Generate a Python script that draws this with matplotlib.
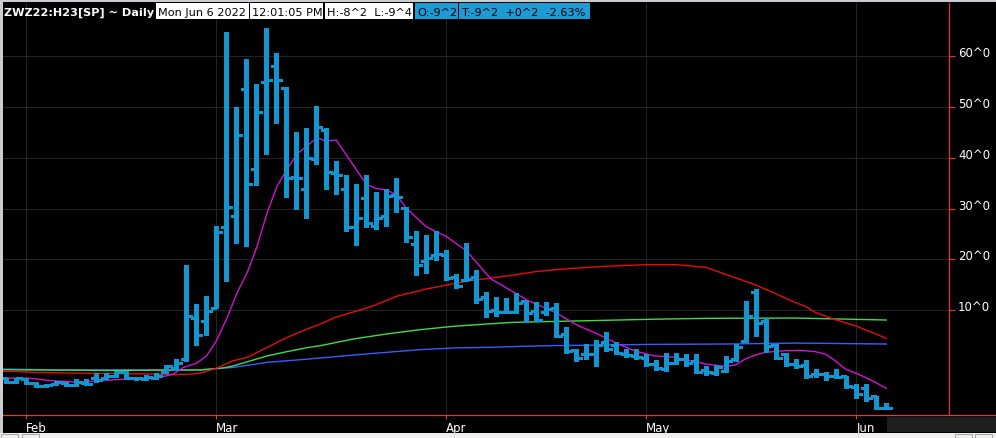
"""
ZWZ22:H23 wheat calendar spread, daily OHLC bars with moving averages
"""

import numpy as np
import pandas as pd
import matplotlib
matplotlib.use('Agg')
import matplotlib.pyplot as plt
from matplotlib.patches import Rectangle

# trading days on the chart (CBOT holidays removed)
dates = pd.bdate_range('2022-01-28', '2022-06-06', freq='C',
                       holidays=['2022-02-21', '2022-04-15', '2022-05-30'])

# spread prices in cents, one value per trading day
opens = [-3.4, -4.2, -3.5, -4.4, -5.0, -4.6, -4.3, -4.8, -4.4, -3.3,
         -3.4, -2.9, -2.2, -3.3, -3.5, -3.3, -2.3, -1.5, 0.3, 8.4,
         7.8, 10.5, 26.3, 28.5, 53.6, 37.9, 54.9, 58.2, 53.8, 36.2,
         33.8, 39.8, 45.5, 37.0, 33.9, 26.4, 32.1, 26.6, 28.5, 32.7,
         30.1, 22.95, 19.6, 20.85, 20.9, 16.45, 15.9, 16.5, 12.5, 10.0,
         9.55, 9.55, 11.7, 9.75, 9.55, 10.5, 5.3, 2.2, 1.35, 1.35,
         3.8, 3.2, 1.35, 1.0, 0.55, -0.6, -1.6, -0.5, 0.35, -0.1,
         -1.75, -2.45, -1.95, 0.35, 3.85, 13.5, 7.8, 3.1, 1.35, -0.6,
         -0.8, -2.6, -2.6, -3.05, -3.05, -5.25, -5.45, -7.0, -9.25]
highs = [-3.3, -3.3, -3.3, -4.1, -4.6, -3.9, -4.1, -3.6, -3.6, -2.4,
         -2.5, -2.0, -2.0, -3.1, -2.8, -2.4, -0.9, 0.4, 18.9, 11.2,
         12.8, 26.6, 64.9, 50.0, 59.5, 54.6, 65.6, 60.7, 53.9, 45.0,
         45.9, 50.2, 45.9, 39.4, 36.6, 34.9, 36.6, 33.3, 33.9, 36.0,
         30.4, 25.5, 24.8, 25.65, 21.8, 17.1, 23.3, 17.9, 13.5, 12.5,
         12.4, 13.3, 11.7, 11.5, 11.5, 11.4, 6.7, 2.3, 3.3, 4.1,
         5.75, 3.65, 2.35, 2.35, 1.35, 0.15, 1.55, 1.55, 1.35, 1.35,
         -1.1, -0.85, 0.9, 3.3, 11.85, 14.15, 8.35, 3.3, 1.55, 0.45,
         0.15, -1.6, -2.15, -1.6, -2.95, -4.55, -4.55, -7.0, -8.25]
lows = [-4.4, -4.4, -4.6, -5.1, -5.1, -4.7, -5.0, -5.0, -4.8, -4.1,
        -3.6, -3.1, -3.6, -3.7, -3.7, -3.6, -2.4, -1.9, -0.1, 3.2,
        5.0, 10.5, 15.8, 23.2, 22.7, 34.7, 40.8, 46.9, 32.3, 29.9,
        28.1, 38.7, 33.9, 32.9, 25.5, 22.9, 26.4, 26.0, 26.6, 29.4,
        23.5, 17.0, 17.3, 19.9, 16.0, 14.35, 15.65, 11.45, 8.7, 8.9,
        9.35, 9.35, 7.6, 7.8, 9.1, 4.6, 1.55, 0.0, 0.35, -0.95,
        2.0, 1.35, 0.7, 0.35, -0.95, -1.75, -1.95, -0.6, -0.95, -2.45,
        -2.8, -2.8, -2.3, 0.05, 3.65, 4.95, 1.8, 0.35, -0.95, -1.5,
        -3.45, -3.25, -3.7, -3.45, -5.45, -7.4, -7.85, -9.5, -9.5]
closes = [-4.2, -3.4, -4.4, -5.0, -4.8, -4.2, -4.8, -4.2, -4.6, -3.7,
          -2.9, -2.2, -3.4, -3.4, -3.1, -2.9, -1.1, -0.4, 8.8, 5.1,
          9.75, 25.3, 30.25, 44.6, 34.8, 49.0, 55.3, 55.3, 36.0, 36.0,
          39.9, 46.0, 37.2, 36.7, 26.4, 28.1, 27.2, 28.1, 32.4, 32.3,
          24.5, 18.9, 20.2, 21.05, 16.3, 14.75, 16.1, 12.1, 9.75, 9.55,
          9.55, 11.3, 9.35, 8.05, 10.2, 4.95, 1.9, 0.55, 1.35, 3.2,
          2.35, 1.55, 1.15, 0.7, -0.6, -1.5, -0.5, 0.35, -0.5, -2.3,
          -2.3, -1.15, 0.05, 2.65, 8.75, 7.45, 2.85, 0.55, -0.6, -1.1,
          -3.05, -2.6, -2.95, -3.25, -4.9, -6.55, -7.4, -9.35, -9.25]

# moving averages: (bar index, value)
ma_fast_x = [-1, 0, 2.4, 4.4, 7.4, 9.4, 12.0, 15.4, 16.7, 17.7, 19.0, 20.0,
             21.0, 22.1, 23.1, 24.1, 25.1, 26.1, 27.1, 28.1, 29.1, 30.1,
             31.1, 31.9, 33.0, 36.0, 36.9, 38.0, 39.0, 40.0, 42.0, 44.0,
             46.0, 47.9, 48.5, 50.5, 52.2, 53.8, 55.2, 57.2, 58.8, 61.2,
             62.8, 64.7, 66.9, 68.9, 69.9, 71.9, 72.9, 73.9, 74.9, 75.9,
             77.9, 79.5, 80.9, 81.9, 82.9, 83.9, 84.9, 85.9, 86.9, 88.0]
ma_fast_y = [-3.4, -3.4, -3.45, -3.9, -4.25, -3.9, -3.6, -3.25, -2.6, -1.3,
             -0.5, 0.9, 3.9, 8.6, 13.5, 17.4, 22.7, 29.3, 34.5, 37.8,
             40.8, 42.4, 44.0, 43.3, 43.5, 34.8, 34.0, 33.7, 32.7, 30.1,
             26.4, 24.5, 21.7, 17.4, 16.1, 13.8, 11.85, 10.5, 9.2, 6.9,
             5.6, 3.3, 2.0, 1.0, 0.7, -0.17, -0.63, -1.09, -0.83, 0.36,
             1.14, 1.67, 2.0, 2.06, 1.8, 1.33, 0.02, -1.62, -2.4, -3.26,
             -4.24, -5.43]

ma_mid_x = [-1, 0.7, 2.7, 6.0, 9.4, 14.4, 16.7, 18.7, 19.4, 21.0, 22.7,
            24.1, 26.1, 28.1, 30.1, 31.4, 32.9, 35.7, 36.9, 39.0, 42.0,
            44.0, 46.4, 48.4, 50.4, 53.0, 56.4, 59.7, 64.0, 67.0, 70.0,
            73.0, 74.7, 76.4, 78.7, 79.9, 80.9, 82.9, 84.9, 88.0]
ma_mid_y = [-2.07, -2.07, -2.27, -2.4, -2.47, -2.6, -2.73, -2.6, -2.4, -1.5,
            0.02, 0.68, 2.66, 4.63, 6.27, 7.25, 8.57, 10.2, 11.0, 12.7,
            14.15, 14.93, 15.8, 16.3, 16.8, 17.6, 18.2, 18.6, 18.95, 18.95,
            18.4, 16.3, 15.14, 13.7, 11.65, 10.73, 9.55, 8.1, 6.92, 4.43]

ma_slow_x = [-1, 10, 19.4, 21.7, 22.7, 26.1, 28.1, 30.1, 31.4, 34.7, 38.0,
             41.4, 44.7, 48.0, 50.7, 55.3, 64.8, 70.0, 78.9, 88.0]
ma_slow_y = [-1.75, -1.9, -1.8, -1.4, -1.0, 0.97, 1.82, 2.6, 2.98, 4.3, 5.28,
             6.14, 6.8, 7.25, 7.58, 7.78, 8.2, 8.37, 8.43, 8.04]

ma_long_x = [-1, 5, 19.4, 22.7, 26.1, 29.4, 31.4, 34.7, 38.0, 41.4, 44.7,
             48.0, 54.1, 64.8, 72.0, 78.9, 88.0]
ma_long_y = [-1.6, -1.8, -1.8, -1.3, -0.3, 0.22, 0.55, 1.14, 1.67, 2.2, 2.53,
             2.65, 2.98, 3.24, 3.31, 3.5, 3.31]

price_ticks = [10, 20, 30, 40, 50, 60]

header_title = 'ZWZ22:H23[SP] ~ Daily'
header_boxes = ['Mon Jun 6 2022', '12:01:05 PM', 'H:-8^2  L:-9^4',
                'O:-9^2', 'T:-9^2  +0^2  -2.63%']

BAR_COLOR = '#1396cf'
AXIS_RED = '#e83535'

W, H = 996, 439
fig = plt.figure(figsize=(W / 100, H / 100), dpi=100, facecolor='black')
ax = fig.add_axes([3 / W, (H - 416) / H, (949 - 3) / W, (416 - 4) / H])
ax.set_facecolor('black')

x = np.arange(len(dates))
op = np.array(opens)
hi = np.array(highs)
lo = np.array(lows)
cl = np.array(closes)

# moving averages first, bars on top
ax.plot(ma_long_x, ma_long_y, color='#3a5cff', lw=1.0, zorder=2)
ax.plot(ma_slow_x, ma_slow_y, color='#3fdc4a', lw=1.0, zorder=2)
ax.plot(ma_mid_x, ma_mid_y, color='#e80d0d', lw=1.0, zorder=2)
ax.plot(ma_fast_x, ma_fast_y, color='#d411d4', lw=1.0, zorder=2)

# OHLC bars, drawn crisp like the terminal does
bar_kw = dict(color=BAR_COLOR, zorder=3, antialiased=False)
ax.vlines(x, lo, hi, lw=2.2, **bar_kw)
ax.hlines(op, x - 0.55, x, lw=2.0, **bar_kw)
ax.hlines(cl, x, x + 0.55, lw=2.0, **bar_kw)

ax.set_xlim(-0.33, 94.27)
ax.set_ylim(-10.68, 70.52)

# month ticks at first trading day of each month
month_idx = [int(np.where(dates.month == m)[0][0]) for m in [2, 3, 4, 5, 6]]
month_lab = [dates[i].strftime('%b') for i in month_idx]
ax.set_xticks(month_idx)
ax.set_xticklabels(month_lab, ha='left')
ax.set_yticks(price_ticks)
ax.set_yticklabels([f'{t}^0' for t in price_ticks], va='baseline')
ax.yaxis.tick_right()

ax.tick_params(axis='x', colors='white', length=3, width=0.8, pad=1.5,
               labelsize=8.5, color=AXIS_RED)
ax.tick_params(axis='y', colors='white', length=4.3, width=0.8, pad=2.2,
               labelsize=8.5, color=AXIS_RED)
ax.grid(True, color='#232323', lw=0.8)
ax.set_axisbelow(True)

for side in ['left', 'top']:
    ax.spines[side].set_visible(False)
for side in ['right', 'bottom']:
    ax.spines[side].set_color(AXIS_RED)
    ax.spines[side].set_linewidth(0.9)

# overlay in pixel coordinates for the window chrome and header
ov = fig.add_axes([0, 0, 1, 1], zorder=5)
ov.set_xlim(0, W)
ov.set_ylim(H, 0)
ov.axis('off')

ov.add_patch(Rectangle((0, 0), W, 3, color='#c9cdd2', lw=0))
ov.add_patch(Rectangle((0, 0), 3, 434, color='#c9cdd2', lw=0))
ov.add_patch(Rectangle((0, 434), W, 5, color='#eeeeee', lw=0))
for bx in [1, 22, 955, 975]:
    ov.add_patch(Rectangle((bx, 435), 17, 5, fill=False, ec='#9a9a9a', lw=0.6))
ov.add_patch(Rectangle((887, 418), W - 887, 15, color='#1e1e1e', lw=0))
ov.plot([949, W], [416, 416], color=AXIS_RED, lw=0.9)

ov.text(4, 12.5, header_title, color='white', fontsize=8.1,
        fontweight='bold', va='center', ha='left')
box_x = [(156, 249), (250, 323), (325, 413), (415, 458), (459, 590)]
box_col = ['white', 'white', 'white', '#1c9bd5', '#1c9bd5']
for (x0, x1), col, txt in zip(box_x, box_col, header_boxes):
    ov.add_patch(Rectangle((x0, 4), x1 - x0, 16, color=col, lw=0))
    ov.text(x0 + 2, 12.5, txt, color='black', fontsize=8.1,
            va='center', ha='left')

plt.savefig('out.png', dpi=100, facecolor='black')
plt.close()
